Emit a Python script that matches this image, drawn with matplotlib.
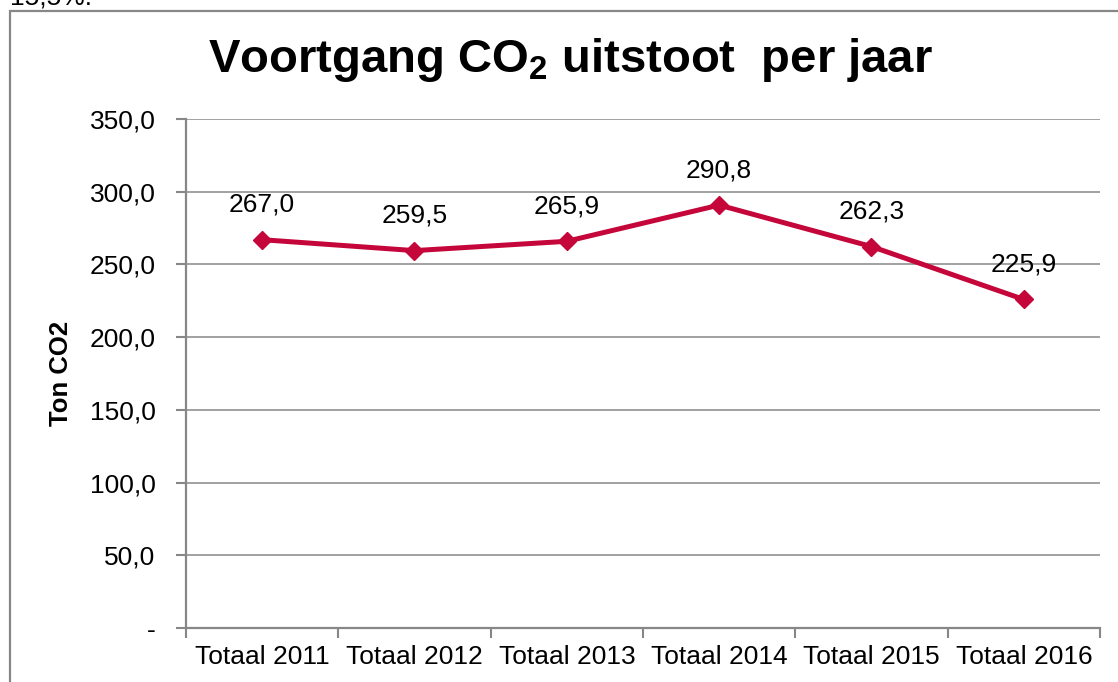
import numpy as np
import matplotlib
matplotlib.use("Agg")
import matplotlib.pyplot as plt
from matplotlib.patches import Rectangle

plt.rcParams['font.family'] = ['Liberation Sans', 'DejaVu Sans']
plt.rcParams['mathtext.fontset'] = 'custom'
plt.rcParams['mathtext.rm'] = 'Liberation Sans:bold'
plt.rcParams['mathtext.default'] = 'rm'

# data
categories = ['Totaal 2011', 'Totaal 2012', 'Totaal 2013', 'Totaal 2014', 'Totaal 2015', 'Totaal 2016']
values = [267.0, 259.5, 265.9, 290.8, 262.3, 225.9]
yticks = [0, 50, 100, 150, 200, 250, 300, 350]

red = '#C4063B'
gray = '#878787'

W, H = 1118, 682
fig = plt.figure(figsize=(W / 100, H / 100), dpi=100)
ax = fig.add_axes([186 / W, 1 - 628 / H, (1100 - 186) / W, (628 - 119) / H])

# outer chart frame
fig.patches.append(Rectangle((10 / W, -0.05), 1.2, 1 - 11 / H + 0.05, transform=fig.transFigure,
                             fill=False, edgecolor=gray, lw=1.6, zorder=0))
fig.text(10 / W, 1 - 4 / H, '15,5%.', fontsize=19, va='baseline', ha='left')

x = np.arange(len(values))
ax.plot(x, values, color=red, lw=3.6, marker='D', markersize=9.5, zorder=3)
for xi, v in zip(x, values):
    ax.annotate(f'{v:.1f}'.replace('.', ','), (xi, v), xytext=(0, 25), textcoords='offset points',
                ha='center', va='center', fontsize=19)

ax.set_xlim(-0.5, len(values) - 0.5)
ax.set_ylim(0, 350)
ax.set_yticks(yticks)
ax.set_yticklabels(['-' if t == 0 else f'{t:.1f}'.replace('.', ',') for t in yticks])
ax.yaxis.grid(True, color=gray, lw=1.1)
ax.set_axisbelow(True)

ax.set_xticks(np.arange(-0.5, len(values), 1.0))
ax.set_xticklabels([])
ax.set_xticks(x, minor=True)
ax.set_xticklabels(categories, minor=True)
ax.tick_params(axis='x', which='major', length=7, width=1.5, color=gray, direction='out')
ax.tick_params(axis='x', which='minor', length=0, pad=12, labelsize=19)
ax.tick_params(axis='y', length=7, width=1.5, color=gray, pad=15, labelsize=19)

for s in ['top', 'right']:
    ax.spines[s].set_visible(False)
for s in ['left', 'bottom']:
    ax.spines[s].set_color(gray)
    ax.spines[s].set_linewidth(1.6)

ax.set_ylabel('Ton CO2', fontsize=18.5, fontweight='bold', labelpad=12)

fig.text(570 / W, 1 - 72 / H, r'Voortgang CO$_2$ uitstoot  per jaar', fontsize=34,
         fontweight='bold', ha='center', va='baseline')

fig.savefig('out.png', dpi=100)
